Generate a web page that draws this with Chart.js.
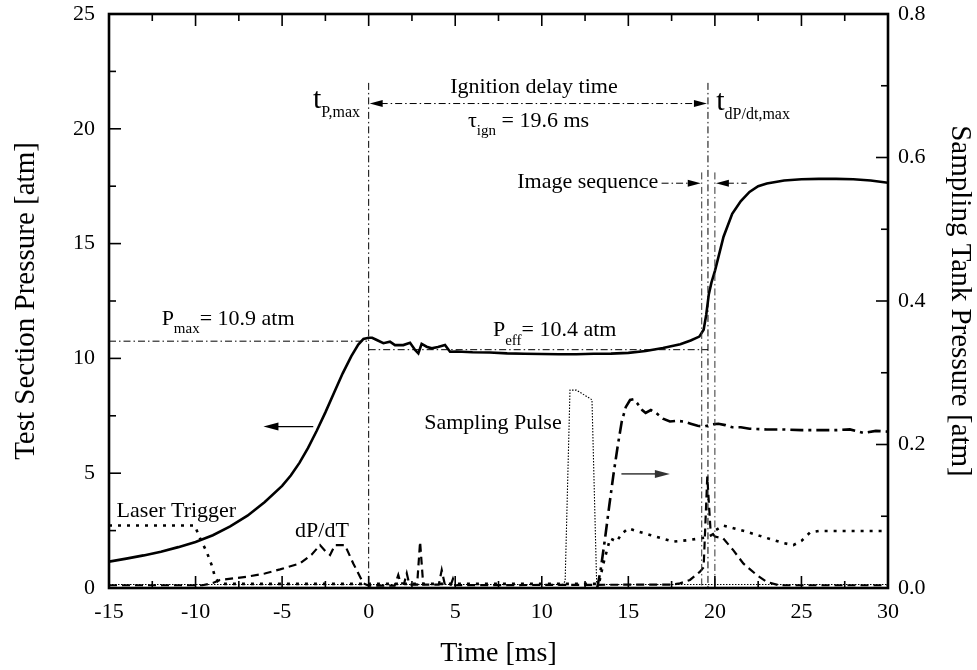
<!DOCTYPE html>
<html>
<head>
<meta charset="utf-8">
<title>Test section pressure and ignition delay time</title>
<script src="https://cdn.jsdelivr.net/npm/chart.js@4.4.1/dist/chart.umd.min.js"></script>
<style>
  html, body { margin: 0; padding: 0; background: #fff; }
  #wrap { width: 977px; height: 670px; }
</style>
</head>
<body>
<div id="wrap"><canvas id="chart" width="977" height="670"></canvas></div>
<script>
// Test section pressure [atm] (solid line, left axis)
const pressureTime = [-15, -14, -13, -12, -11, -10, -9, -8, -7, -6, -5, -4.5, -4, -3.5, -3, -2.5, -2, -1.5, -1, -0.6, -0.3, 0,
  0.2, 0.47, 0.85, 1.23, 1.52, 2.0, 2.39, 2.68, 2.87, 3.06, 3.35, 3.64, 4.0, 4.41, 4.7, 5.08, 6, 7, 8, 9, 10, 11, 12, 13, 14,
  15, 16, 17, 18, 18.6, 19.1, 19.35, 19.5, 19.65, 19.8, 20.0, 20.5, 21, 21.5, 22, 22.5, 23, 24, 25, 26, 27, 28, 29, 30];
const pressureAtm = [1.15, 1.28, 1.42, 1.58, 1.78, 2.0, 2.3, 2.68, 3.15, 3.75, 4.45, 4.9, 5.45, 6.1, 6.85, 7.65, 8.5, 9.35, 10.1, 10.6, 10.85, 10.9,
  10.9, 10.8, 10.66, 10.73, 10.58, 10.58, 10.68, 10.37, 10.22, 10.63, 10.51, 10.44, 10.5, 10.58, 10.29, 10.3, 10.27, 10.26, 10.22, 10.2, 10.19, 10.18, 10.18, 10.2, 10.21,
  10.24, 10.32, 10.45, 10.62, 10.78, 10.95, 11.25, 11.9, 12.8, 13.3, 13.8, 15.3, 16.3, 16.85, 17.25, 17.5, 17.62, 17.75, 17.8, 17.82, 17.82, 17.8, 17.75, 17.65];

// Sampling tank pressure [atm] (dash-dot line, right axis)
const tankTime = [13.2, 13.4, 13.66, 13.9, 14.14, 14.4, 14.62, 14.85, 15.1, 15.3, 15.5, 15.8, 16.0, 16.3, 16.6, 17.0, 17.4, 17.8,
  18.2, 18.6, 19.0, 19.4, 19.8, 20.2, 20.6, 21.0, 21.5, 22, 23, 24, 25, 26, 27, 27.8, 28.6, 29.3, 30];
const tankAtm = [0.0, 0.025, 0.07, 0.115, 0.158, 0.2, 0.232, 0.252, 0.262, 0.263, 0.258, 0.248, 0.244, 0.248, 0.244, 0.236, 0.232, 0.233,
  0.232, 0.229, 0.226, 0.225, 0.228, 0.229, 0.227, 0.224, 0.224, 0.222, 0.221, 0.221, 0.22, 0.22, 0.22, 0.221, 0.216, 0.219, 0.218];

// dP/dT trace (dashed, drawn in left-axis units)
const dpdtTime = [-15, -9.6, -9.0, -8.59, -7.05, -6, -5.12, -3.97, -3.3, -2.81, -2.5, -2.23, -1.94, -1.37, -0.89, -0.5, -0.3, 0.0,
  1.5, 1.71, 1.85, 2.05, 2.2, 2.35, 2.8, 2.97, 3.15, 4.05, 4.22, 4.4, 4.75, 4.87, 5.0, 17.5, 17.98, 18.56, 19.14, 19.35,
  19.56, 19.75, 20.0, 20.48, 21.06, 21.64, 22.41, 22.99, 23.7, 30];
const dpdtValue = [0.12, 0.12, 0.22, 0.35, 0.49, 0.63, 0.81, 1.07, 1.45, 1.87, 1.6, 1.44, 1.87, 1.87, 1.07, 0.49, 0.2, 0.1,
  0.1, 0.57, 0.2, 0.2, 0.64, 0.15, 0.15, 2.02, 0.15, 0.15, 0.78, 0.15, 0.15, 0.4, 0.12, 0.15, 0.2, 0.35, 0.71, 0.9,
  4.85, 2.5, 2.24, 2.16, 1.65, 1.07, 0.57, 0.27, 0.12, 0.12];

// Laser trigger (coarse dots)
const laserTime = [-15, -10.05, -9.74, -9.36, -9.07, -8.88, -8.69, -8.4, 13.3, 13.56, 13.95, 14.33, 14.6, 15.0, 15.6, 16.25, 17.0,
  17.6, 18.4, 19.14, 19.5, 19.8, 20.0, 20.48, 21.0, 21.83, 22.6, 23.37, 24.0, 24.53, 25.0, 25.5, 26, 30];
const laserValue = [2.72, 2.72, 2.16, 1.58, 1.0, 0.49, 0.27, 0.18, 0.18, 1.07, 2.16, 2.02, 2.35, 2.6, 2.45, 2.31, 2.15,
  2.02, 2.08, 2.16, 2.2, 2.3, 2.5, 2.72, 2.62, 2.45, 2.27, 2.09, 1.95, 1.87, 2.05, 2.42, 2.48, 2.48];

// Sampling pulse (fine dots)
const pulseTime = [-15, 11.2, 11.35, 11.63, 12.0, 12.9, 13.17, 13.3, 30];
const pulseValue = [0.15, 0.15, 0.3, 8.62, 8.62, 8.2, 0.2, 0.15, 0.15];

// Tick labels
const xTicks = [-15, -10, -5, 0, 5, 10, 15, 20, 25, 30];
const leftTicks = [0, 5, 10, 15, 20, 25];
const rightTicks = [0.0, 0.2, 0.4, 0.6, 0.8];

// Analysis markers (ms, atm on the left axis)
const refTimes = [0, 19.6];          // t_P,max and t_dP/dt,max
const refTop = 22.0;
const imageTimes = [19.24, 20.0];    // image sequence window
const imageTop = 18.1;
const pMaxLine = [-15, 0, 10.75];    // from, to, level
const pEffLine = [0, 19.6, 10.38];
const delayArrow = [0, 19.6, 21.1];
const imageArrowLevel = 17.63;
const imageArrowTails = [16.92, 21.84];
const leftAxisArrow = [-3.2, -6.08, 7.03];
const rightAxisArrow = [14.6, 17.4, 4.97];

const FONT = "'Liberation Serif', 'Times New Roman', serif";
const REF_DASH = [7, 3, 1.5, 3];

const toPoints = (xs, ys) => xs.map((x, i) => ({ x, y: ys[i] }));

/**
 * Text items, anchored in data units. Each part may be a subscript.
 */
const textItems = [
  { x: 9.55, y: 21.58, align: 'center', parts: [{ t: 'Ignition delay time' }] },
  { x: 5.74, y: 20.09, align: 'left', parts: [{ t: 'τ' }, { t: 'ign', sub: 8 }, { t: ' = 19.6 ms' }] },
  { x: -0.5, y: 20.9, align: 'right', parts: [{ t: 't', size: 30 }, { t: 'P,max', sub: 9, size: 16 }] },
  { x: 20.08, y: 20.82, align: 'left', parts: [{ t: 't', size: 30 }, { t: 'dP/dt,max', sub: 9, size: 16 }] },
  { x: 16.73, y: 17.41, align: 'right', parts: [{ t: 'Image sequence' }] },
  { x: -11.96, y: 11.45, align: 'left', parts: [{ t: 'P' }, { t: 'max', sub: 8 }, { t: '= 10.9 atm' }] },
  { x: 7.18, y: 10.98, align: 'left', parts: [{ t: 'P' }, { t: 'eff', sub: 9 }, { t: '= 10.4 atm' }] },
  { x: 11.15, y: 6.93, align: 'right', parts: [{ t: 'Sampling Pulse' }] },
  { x: -14.56, y: 3.08, align: 'left', parts: [{ t: 'Laser Trigger' }] },
  { x: -4.25, y: 2.2, align: 'left', parts: [{ t: 'dP/dT' }] }
];

function strokeLine(ctx, x1, y1, x2, y2, opts = {}) {
  ctx.save();
  ctx.beginPath();
  ctx.setLineDash(opts.dash || []);
  ctx.lineWidth = opts.width || 1;
  ctx.strokeStyle = opts.color || '#000';
  ctx.moveTo(x1, y1);
  ctx.lineTo(x2, y2);
  ctx.stroke();
  ctx.restore();
}

// Filled horizontal arrowhead; dir = 1 points right, -1 points left
function arrowHead(ctx, tipX, y, dir, len, half, color) {
  ctx.save();
  ctx.fillStyle = color || '#000';
  ctx.beginPath();
  ctx.moveTo(tipX, y);
  ctx.lineTo(tipX - dir * len, y - half);
  ctx.lineTo(tipX - dir * len, y + half);
  ctx.closePath();
  ctx.fill();
  ctx.restore();
}

function drawRich(ctx, item, px, py) {
  const base = 22;
  const widths = item.parts.map(p => {
    ctx.font = `${p.size || (p.sub ? 15 : base)}px ${FONT}`;
    return ctx.measureText(p.t).width;
  });
  const total = widths.reduce((a, b) => a + b, 0);
  let x = item.align === 'center' ? px - total / 2 : item.align === 'right' ? px - total : px;
  ctx.save();
  ctx.fillStyle = '#000';
  ctx.textBaseline = 'alphabetic';
  ctx.textAlign = 'left';
  item.parts.forEach((p, i) => {
    ctx.font = `${p.size || (p.sub ? 15 : base)}px ${FONT}`;
    ctx.fillText(p.t, x, py + (p.sub || 0));
    x += widths[i];
  });
  ctx.restore();
}

const overlayPlugin = {
  id: 'overlay',
  afterDatasetsDraw(chart) {
    const { ctx, chartArea: area, scales } = chart;
    const sx = v => scales.x.getPixelForValue(v);
    const sy = v => scales.y.getPixelForValue(v);
    const bottom = area.bottom;

    // reference lines
    refTimes.forEach(t => strokeLine(ctx, sx(t), sy(refTop), sx(t), bottom, { dash: REF_DASH }));
    imageTimes.forEach(t => strokeLine(ctx, sx(t), sy(imageTop), sx(t), bottom, { dash: REF_DASH, color: '#333' }));
    strokeLine(ctx, sx(pMaxLine[0]), sy(pMaxLine[2]), sx(pMaxLine[1]), sy(pMaxLine[2]), { dash: REF_DASH });
    strokeLine(ctx, sx(pEffLine[0]), sy(pEffLine[2]), sx(pEffLine[1]), sy(pEffLine[2]), { dash: REF_DASH });

    // ignition delay arrow
    const dy = sy(delayArrow[2]);
    strokeLine(ctx, sx(delayArrow[0]) + 12, dy, sx(delayArrow[1]) - 12, dy, { dash: REF_DASH });
    arrowHead(ctx, sx(delayArrow[0]) + 1, dy, -1, 13, 3.5);
    arrowHead(ctx, sx(delayArrow[1]) - 1, dy, 1, 13, 3.5);

    // image sequence arrows
    const iy = sy(imageArrowLevel);
    strokeLine(ctx, sx(imageArrowTails[0]), iy, sx(imageTimes[0]) - 12, iy, { dash: REF_DASH });
    arrowHead(ctx, sx(imageTimes[0]) - 1, iy, 1, 13, 3.5);
    strokeLine(ctx, sx(imageTimes[1]) + 12, iy, sx(imageArrowTails[1]), iy, { dash: REF_DASH });
    arrowHead(ctx, sx(imageTimes[1]) + 1, iy, -1, 13, 3.5);

    // axis pointers
    const ly = sy(leftAxisArrow[2]);
    strokeLine(ctx, sx(leftAxisArrow[0]), ly, sx(leftAxisArrow[1]) + 14, ly, { width: 1.3 });
    arrowHead(ctx, sx(leftAxisArrow[1]), ly, -1, 15, 4);
    const ry = sy(rightAxisArrow[2]);
    strokeLine(ctx, sx(rightAxisArrow[0]), ry, sx(rightAxisArrow[1]) - 14, ry, { width: 1.6, color: '#555' });
    arrowHead(ctx, sx(rightAxisArrow[1]), ry, 1, 15, 4, '#333');

    textItems.forEach(item => drawRich(ctx, item, sx(item.x), sy(item.y)));
  },
  afterDraw(chart) {
    const { ctx, chartArea: a, scales } = chart;
    ctx.save();
    ctx.strokeStyle = '#000';
    ctx.lineWidth = 1.6;
    const tick = (x1, y1, x2, y2) => { ctx.beginPath(); ctx.moveTo(x1, y1); ctx.lineTo(x2, y2); ctx.stroke(); };

    // x ticks, bottom and top, majors every 5 and minors in between
    for (let i = 0; i < xTicks.length; i++) {
      const x = scales.x.getPixelForValue(xTicks[i]);
      tick(x, a.bottom, x, a.bottom - 12);
      tick(x, a.top, x, a.top + 12);
      if (i < xTicks.length - 1) {
        const xm = scales.x.getPixelForValue((xTicks[i] + xTicks[i + 1]) / 2);
        tick(xm, a.bottom, xm, a.bottom - 7);
        tick(xm, a.top, xm, a.top + 7);
      }
    }
    for (let i = 0; i < leftTicks.length; i++) {
      const y = scales.y.getPixelForValue(leftTicks[i]);
      tick(a.left, y, a.left + 12, y);
      if (i < leftTicks.length - 1) {
        const ym = scales.y.getPixelForValue((leftTicks[i] + leftTicks[i + 1]) / 2);
        tick(a.left, ym, a.left + 7, ym);
      }
    }
    for (let i = 0; i < rightTicks.length; i++) {
      const y = scales.y2.getPixelForValue(rightTicks[i]);
      tick(a.right, y, a.right - 12, y);
      if (i < rightTicks.length - 1) {
        const ym = scales.y2.getPixelForValue((rightTicks[i] + rightTicks[i + 1]) / 2);
        tick(a.right, ym, a.right - 7, ym);
      }
    }
    ctx.lineWidth = 2.6;
    ctx.strokeRect(a.left, a.top, a.right - a.left, a.bottom - a.top);
    ctx.restore();
  }
};

Chart.defaults.font.family = FONT;
Chart.defaults.color = '#000';

const lineDefaults = { pointRadius: 0, tension: 0, fill: false, borderCapStyle: 'butt' };
const noPad = s => { s.paddingTop = 0; s.paddingBottom = 0; };

new Chart(document.getElementById('chart'), {
  type: 'line',
  data: {
    datasets: [
      { ...lineDefaults, label: 'Sampling Pulse', data: toPoints(pulseTime, pulseValue), yAxisID: 'y',
        borderColor: '#000', borderWidth: 1.1, borderDash: [1.5, 1.5] },
      { ...lineDefaults, label: 'Laser Trigger', data: toPoints(laserTime, laserValue), yAxisID: 'y',
        borderColor: '#000', borderWidth: 2.6, borderDash: [3, 6] },
      { ...lineDefaults, label: 'dP/dT', data: toPoints(dpdtTime, dpdtValue), yAxisID: 'y',
        borderColor: '#000', borderWidth: 2.2, borderDash: [8, 5] },
      { ...lineDefaults, label: 'Sampling Tank Pressure', data: toPoints(tankTime, tankAtm), yAxisID: 'y2',
        borderColor: '#000', borderWidth: 2.6, borderDash: [13, 5, 3, 5] },
      { ...lineDefaults, label: 'Test Section Pressure', data: toPoints(pressureTime, pressureAtm), yAxisID: 'y',
        borderColor: '#000', borderWidth: 2.6 }
    ]
  },
  options: {
    responsive: false,
    animation: false,
    devicePixelRatio: 1,
    layout: { padding: { top: 14, left: 0, right: 0, bottom: 0 } },
    plugins: { legend: { display: false }, tooltip: { enabled: false } },
    scales: {
      x: {
        type: 'linear', min: -15, max: 30,
        grid: { display: false, drawTicks: false }, border: { display: false },
        afterBuildTicks: s => { s.ticks = xTicks.map(v => ({ value: v })); },
        afterFit: s => { s.height = 82; s.paddingLeft = 0; s.paddingRight = 0; },
        ticks: { autoSkip: false, maxRotation: 0, padding: 11, font: { size: 22 } },
        title: { display: true, text: 'Time [ms]', font: { size: 28 }, padding: { top: 3, bottom: 0 } }
      },
      y: {
        type: 'linear', position: 'left', min: 0, max: 25,
        grid: { display: false, drawTicks: false }, border: { display: false },
        afterBuildTicks: s => { s.ticks = leftTicks.map(v => ({ value: v })); },
        afterFit: s => { s.width = 109; noPad(s); },
        ticks: { padding: 14, font: { size: 22 } },
        title: { display: true, text: 'Test Section Pressure [atm]', font: { size: 29 }, padding: { top: 9, bottom: 0 } }
      },
      y2: {
        type: 'linear', position: 'right', min: 0, max: 0.8,
        grid: { display: false, drawTicks: false }, border: { display: false },
        afterBuildTicks: s => { s.ticks = rightTicks.map(v => ({ value: v })); },
        afterFit: s => { s.width = 89; noPad(s); },
        ticks: { padding: 10, font: { size: 22 }, callback: v => Number(v).toFixed(1) },
        title: { display: true, text: 'Sampling Tank Pressure [atm]', font: { size: 29 }, padding: { top: 0, bottom: 0 } }
      }
    }
  },
  plugins: [overlayPlugin]
});
</script>
</body>
</html>
